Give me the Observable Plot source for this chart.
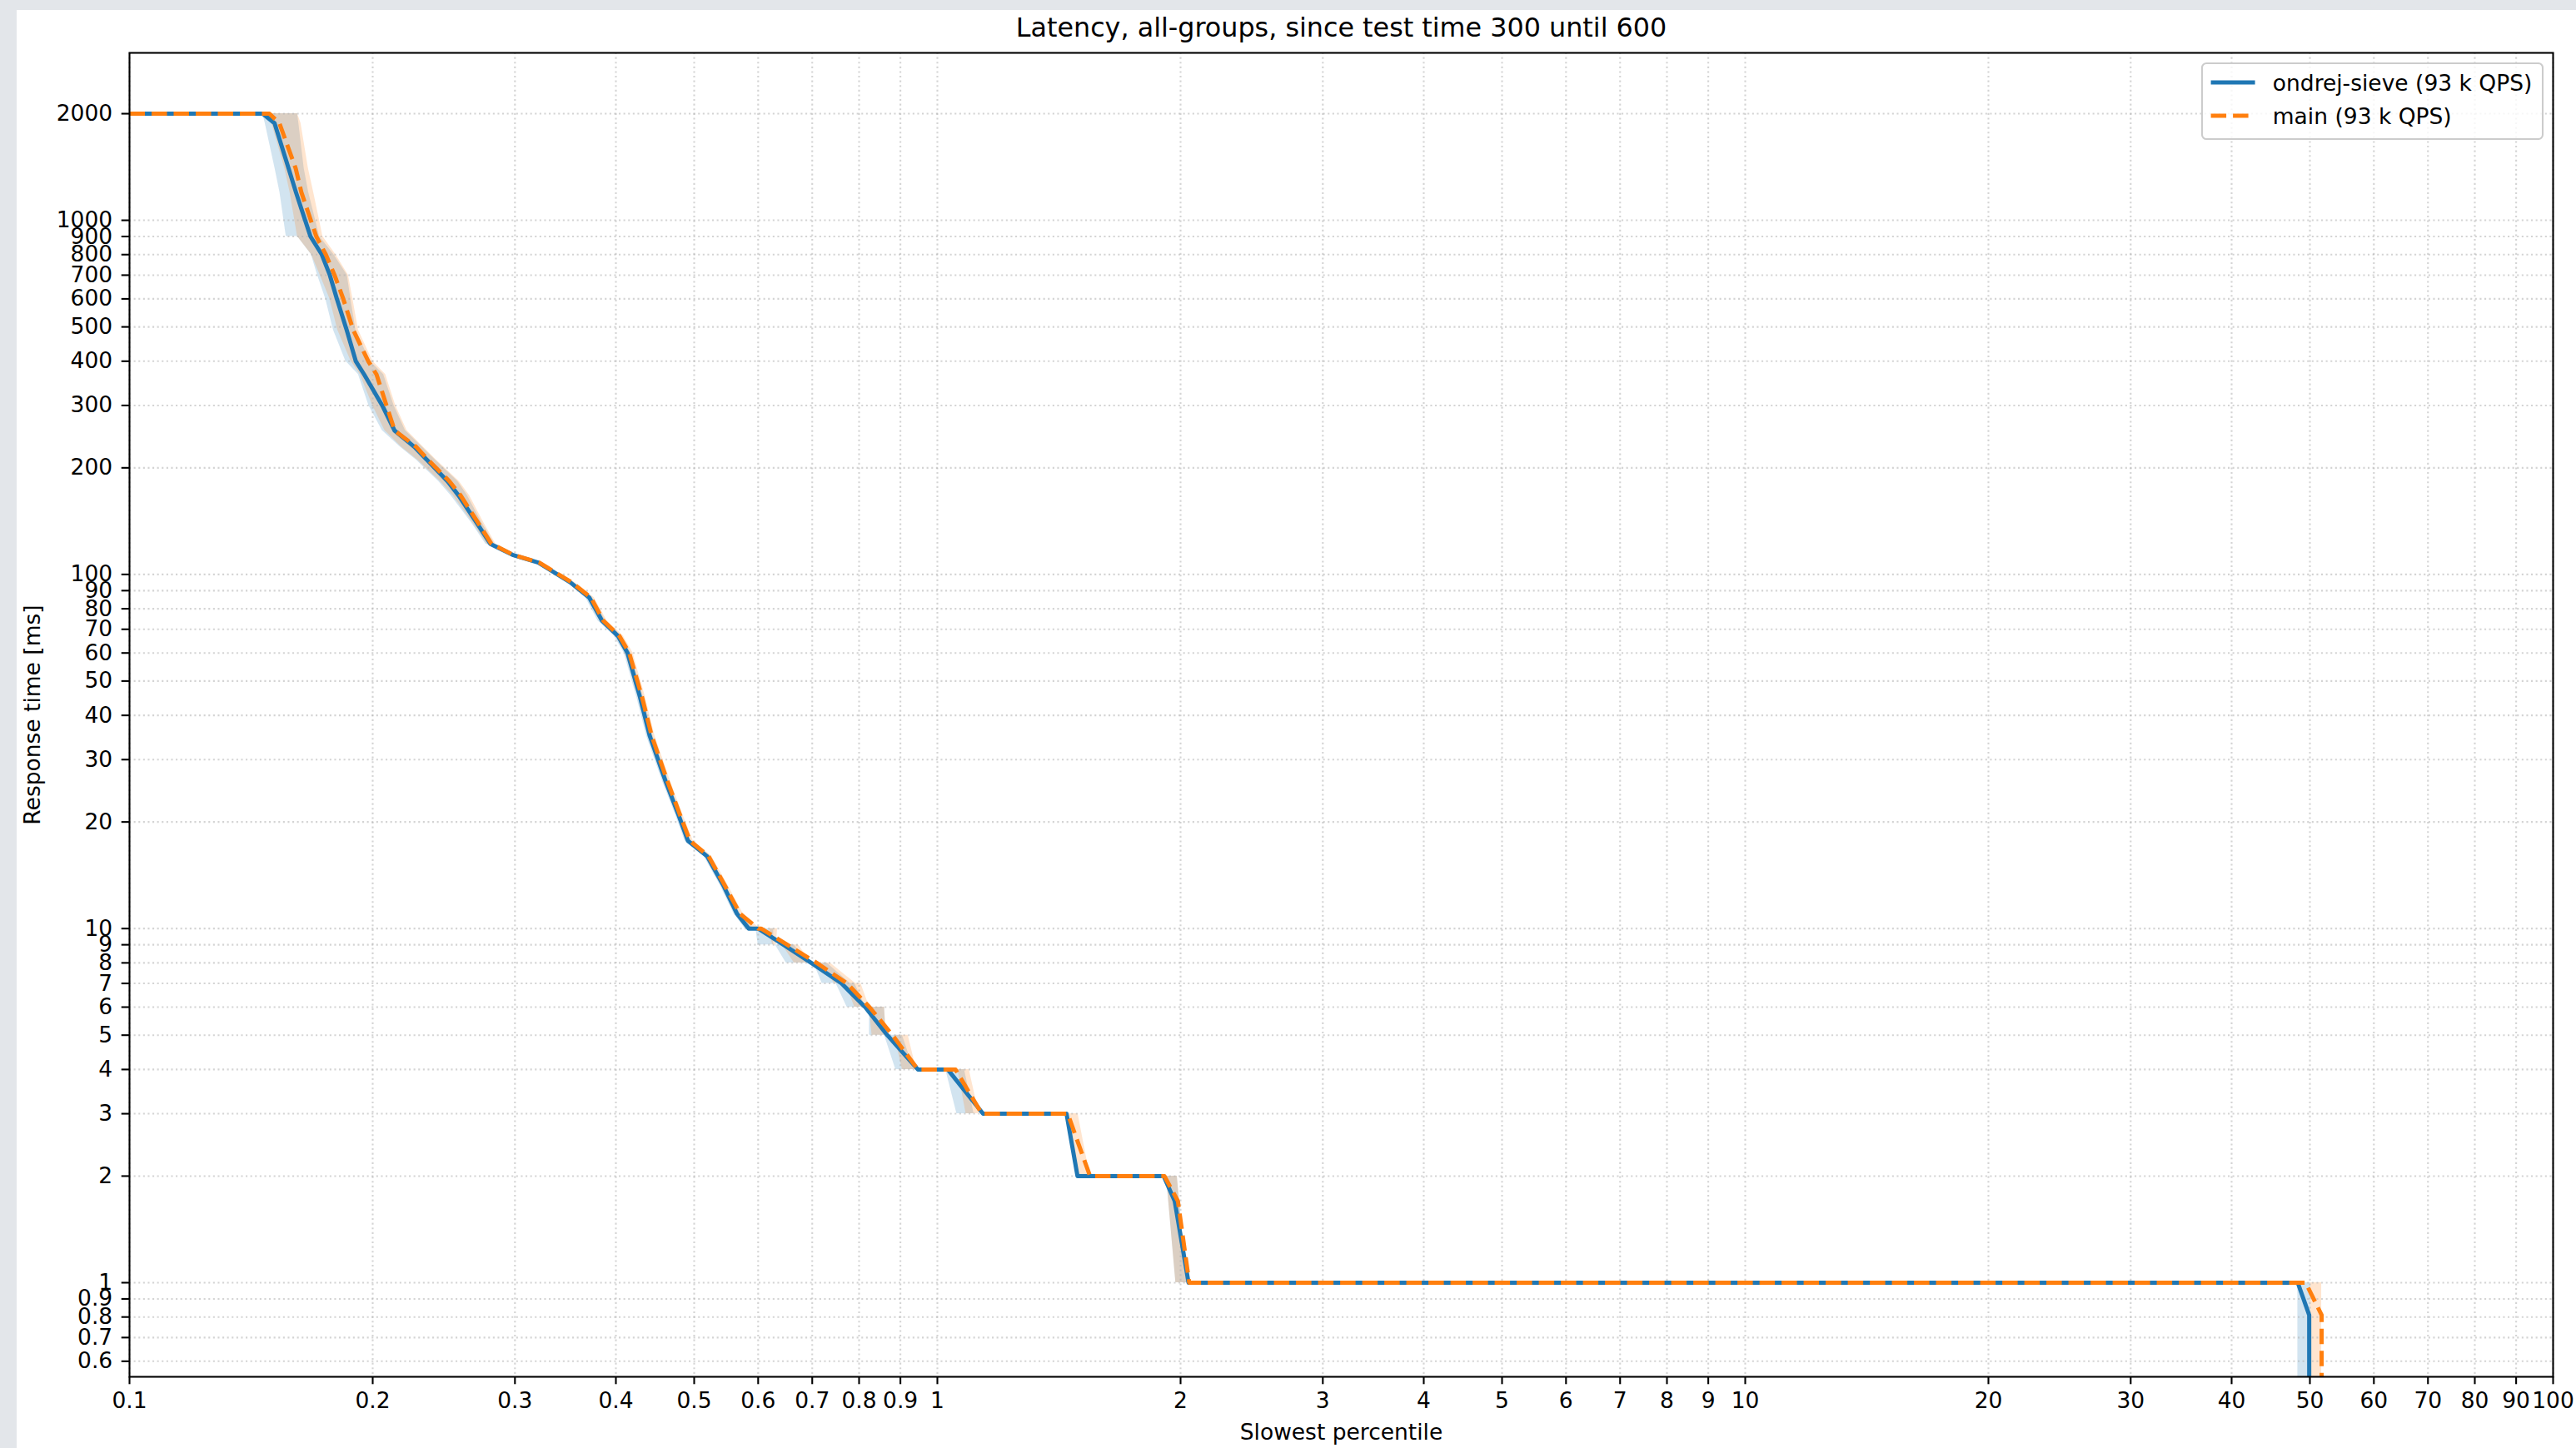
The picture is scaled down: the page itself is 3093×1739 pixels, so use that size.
<!DOCTYPE html>
<html>
<head>
<meta charset="utf-8">
<script src="https://cdn.jsdelivr.net/npm/d3@7"></script>
<script src="https://cdn.jsdelivr.net/npm/@observablehq/plot@0.6"></script>
<style>
  html, body { margin: 0; padding: 0; background: #e3e6ea; overflow: hidden; }
  #chart { position: absolute; left: 20px; top: 12px; width: 3073px; height: 1727px; background: #ffffff; }
</style>
</head>
<body>
<div id="chart"></div>
<script>
// Response-time levels (ms); a level listed twice marks where a flat step starts and ends.
const latencyMs = [
  2000, 2000, 1880, 1400, 1200, 900, 900, 800, 700, 600,
  490, 400, 367, 300, 255, 229, 210, 183, 167, 140,
  122, 113.6, 108, 95, 86, 74, 67, 60, 45, 35,
  26, 21, 17.7, 16, 13.3, 11, 10, 10, 9, 9,
  8, 8, 7, 7, 6, 6, 5, 5, 4, 4,
  3, 3, 2, 2, 1.7, 1, 1, 0.81, 0.3
];

// ondrej-sieve: mean slowest percentile and min/max across runs
const sieveX = [
  0.1, 0.1462, 0.1512, 0.1574, 0.1607, 0.1675, 0.1675, 0.1730, 0.1770, 0.1806,
  0.1857, 0.1906, 0.1952, 0.2055, 0.2128, 0.2253, 0.2337, 0.2477, 0.2555, 0.2689,
  0.2797, 0.2979, 0.3206, 0.3512, 0.3708, 0.3845, 0.4024, 0.4135, 0.4285, 0.4405,
  0.4610, 0.4779, 0.4911, 0.5188, 0.5428, 0.5650, 0.584, 0.600, 0.645, 0.645,
  0.698, 0.698, 0.761, 0.761, 0.814, 0.814, 0.867, 0.867, 0.946, 1.030,
  1.139, 1.445, 1.491, 1.906, 1.967, 2.046, 48.3, 49.9, 49.9
];
const sieveLo = [
  0.1, 0.1462, 0.1472, 0.1514, 0.1535, 0.1563, 0.1614, 0.1679, 0.1709, 0.1749,
  0.1788, 0.1852, 0.1920, 0.1978, 0.2055, 0.2163, 0.2267, 0.2414, 0.2500, 0.2650,
  0.2760, 0.2950, 0.3180, 0.3480, 0.3670, 0.3800, 0.3980, 0.4095, 0.4245, 0.4365,
  0.4570, 0.4740, 0.4870, 0.5140, 0.5380, 0.5600, 0.578, 0.596, 0.600, 0.630,
  0.650, 0.703, 0.720, 0.749, 0.773, 0.824, 0.824, 0.860, 0.888, 1.024,
  1.057, 1.445, 1.491, 1.921, 1.933, 1.973, 48.3, 48.3, 48.3
];
const sieveHi = [
  0.1, 0.1614, 0.1620, 0.1645, 0.1666, 0.1719, 0.1719, 0.1790, 0.1860, 0.1879,
  0.1906, 0.1985, 0.2063, 0.2125, 0.2195, 0.2303, 0.2393, 0.2550, 0.2620, 0.2730,
  0.2830, 0.3005, 0.3230, 0.3540, 0.3740, 0.3885, 0.4065, 0.4175, 0.4325, 0.4445,
  0.4650, 0.4820, 0.4950, 0.5230, 0.5470, 0.5700, 0.592, 0.627, 0.627, 0.665,
  0.690, 0.730, 0.780, 0.790, 0.815, 0.860, 0.864, 0.905, 0.935, 1.080,
  1.110, 1.445, 1.491, 1.981, 1.994, 2.038, 50.1, 50.1, 50.1
];

// main: mean slowest percentile and min/max across runs
const mainX = [
  0.1, 0.149, 0.1533, 0.1606, 0.1632, 0.1703, 0.1703, 0.1750, 0.1794, 0.1839,
  0.1892, 0.1975, 0.2022, 0.2080, 0.2129, 0.2265, 0.2345, 0.2490, 0.2570, 0.2700,
  0.2805, 0.2985, 0.3215, 0.3525, 0.3725, 0.3860, 0.4040, 0.4155, 0.4310, 0.4430,
  0.4635, 0.4800, 0.4940, 0.5210, 0.5450, 0.5700, 0.600, 0.605, 0.652, 0.652,
  0.709, 0.709, 0.773, 0.773, 0.824, 0.824, 0.880, 0.880, 0.946, 1.053,
  1.135, 1.450, 1.545, 1.910, 1.985, 2.050, 49.4, 51.7, 51.7
];
const mainLo = [
  0.1, 0.149, 0.1500, 0.1557, 0.1580, 0.1614, 0.1614, 0.1680, 0.1722, 0.1770,
  0.1810, 0.1880, 0.1930, 0.2000, 0.2070, 0.2170, 0.2275, 0.2425, 0.2515, 0.2660,
  0.2770, 0.2960, 0.3190, 0.3495, 0.3690, 0.3820, 0.4000, 0.4110, 0.4265, 0.4390,
  0.4590, 0.4760, 0.4900, 0.5160, 0.5400, 0.5640, 0.585, 0.620, 0.625, 0.643,
  0.665, 0.720, 0.745, 0.770, 0.790, 0.824, 0.830, 0.885, 0.905, 1.060,
  1.085, 1.456, 1.491, 1.921, 1.933, 1.973, 50.1, 50.1, 50.1
];
const mainHi = [
  0.1, 0.1614, 0.1630, 0.1665, 0.1690, 0.1735, 0.1735, 0.1800, 0.1866, 0.1890,
  0.1920, 0.2000, 0.2075, 0.2135, 0.2205, 0.2310, 0.2400, 0.2560, 0.2636, 0.2745,
  0.2840, 0.3015, 0.3240, 0.3555, 0.3760, 0.3900, 0.4085, 0.4200, 0.4350, 0.4470,
  0.4675, 0.4840, 0.4985, 0.5255, 0.5500, 0.5750, 0.603, 0.634, 0.632, 0.673,
  0.698, 0.737, 0.792, 0.804, 0.824, 0.860, 0.864, 0.920, 0.942, 1.095,
  1.126, 1.493, 1.545, 1.981, 1.994, 2.038, 51.7, 51.7, 51.7
];

const seriesNames = ["ondrej-sieve (93 k QPS)", "main (93 k QPS)"];
const seriesColors = ["#1f77b4", "#ff7f0e"];

const xTicks = [0.1, 0.2, 0.3, 0.4, 0.5, 0.6, 0.7, 0.8, 0.9, 1, 2, 3, 4, 5, 6, 7, 8, 9, 10,
                20, 30, 40, 50, 60, 70, 80, 90, 100];
const yTicks = [0.6, 0.7, 0.8, 0.9, 1, 2, 3, 4, 5, 6, 7, 8, 9, 10, 20, 30, 40, 50, 60, 70, 80, 90,
                100, 200, 300, 400, 500, 600, 700, 800, 900, 1000, 2000];

const chartTitle = "Latency, all-groups, since test time 300 until 600";
const xLabel = "Slowest percentile";
const yLabel = "Response time [ms]";

const rows = latencyMs.map((ms, i) => ({
  ms,
  sieveX: sieveX[i], sieveLo: sieveLo[i], sieveHi: sieveHi[i],
  mainX: mainX[i], mainLo: mainLo[i], mainHi: mainHi[i]
}));

const W = 3073, H = 1727;
const mL = 135, mR = 28, mT = 51, mB = 86;
const fontPx = 26.5;
const gridStyle = {stroke: "#b0b0b0", strokeOpacity: 0.55, strokeWidth: 2.1, strokeDasharray: "2.1,3.5"};

const plot = Plot.plot({
  width: W,
  height: H,
  marginLeft: mL,
  marginRight: mR,
  marginTop: mT,
  marginBottom: mB,
  style: {fontFamily: "'DejaVu Sans', sans-serif", fontSize: `${fontPx}px`, background: "#ffffff", color: "#000"},
  x: {type: "log", domain: [0.1, 100], axis: null},
  y: {type: "log", domain: [0.5423, 2970], axis: null},
  marks: [
    // min/max bands across runs
    Plot.areaX(rows, {y: "ms", x1: "sieveLo", x2: "sieveHi", fill: seriesColors[0], fillOpacity: 0.2, clip: true}),
    Plot.areaX(rows, {y: "ms", x1: "mainLo", x2: "mainHi", fill: seriesColors[1], fillOpacity: 0.2, clip: true}),
    // dotted grid at every tick
    Plot.gridX(xTicks, gridStyle),
    Plot.gridY(yTicks, gridStyle),
    // mean curves
    Plot.line(rows, {x: "sieveX", y: "ms", stroke: seriesColors[0], strokeWidth: 5, clip: true}),
    Plot.line(rows, {x: "mainX", y: "ms", stroke: seriesColors[1], strokeWidth: 5,
                     strokeDasharray: "18.5,8", strokeLinecap: "butt", clip: true}),
    Plot.frame({stroke: "#000", strokeWidth: 2.1}),
    Plot.axisX(xTicks, {anchor: "bottom", tickSize: 9.3, tickPadding: 9.3, strokeWidth: 2.1,
                        tickFormat: d => String(d), label: null, fontSize: fontPx}),
    Plot.axisY(yTicks, {anchor: "left", tickSize: 9.3, tickPadding: 11, strokeWidth: 2.1,
                        tickFormat: d => String(d), label: null, fontSize: fontPx}),
    // title and axis labels
    Plot.text([chartTitle], {frameAnchor: "top", dy: -19.5, lineAnchor: "bottom", fontSize: 31.8}),
    Plot.text([xLabel], {frameAnchor: "bottom", dy: 67, lineAnchor: "middle", fontSize: fontPx}),
    Plot.text([yLabel], {frameAnchor: "left", dx: -116, rotate: -90, lineAnchor: "middle",
                         textAnchor: "middle", fontSize: fontPx})
  ]
});

document.getElementById("chart").appendChild(plot);

// Legend in the upper-right corner of the axes
const svg = d3.select(plot);
const lg = svg.append("g")
  .attr("font-family", "'DejaVu Sans', sans-serif")
  .attr("font-size", fontPx)
  .attr("text-anchor", "start");
const box = {x: 2624, y: 64, w: 409, h: 91};
lg.append("rect")
  .attr("x", box.x).attr("y", box.y).attr("width", box.w).attr("height", box.h)
  .attr("rx", 5.3).attr("ry", 5.3)
  .attr("fill", "#ffffff").attr("fill-opacity", 0.8)
  .attr("stroke", "#cccccc").attr("stroke-width", 2.1);
const rowY = [87, 127];
seriesNames.forEach((name, i) => {
  const y = rowY[i];
  lg.append("line")
    .attr("x1", box.x + 10.6).attr("x2", box.x + 10.6 + 53)
    .attr("y1", y).attr("y2", y)
    .attr("stroke", seriesColors[i]).attr("stroke-width", 5)
    .attr("stroke-dasharray", i === 1 ? "18.5,8" : null)
    .attr("stroke-linecap", "butt");
  lg.append("text")
    .attr("x", box.x + 10.6 + 53 + 21.2).attr("y", y)
    .attr("dy", "0.36em")
    .attr("text-anchor", "start")
    .attr("fill", "#000")
    .text(name);
});
</script>
</body>
</html>
